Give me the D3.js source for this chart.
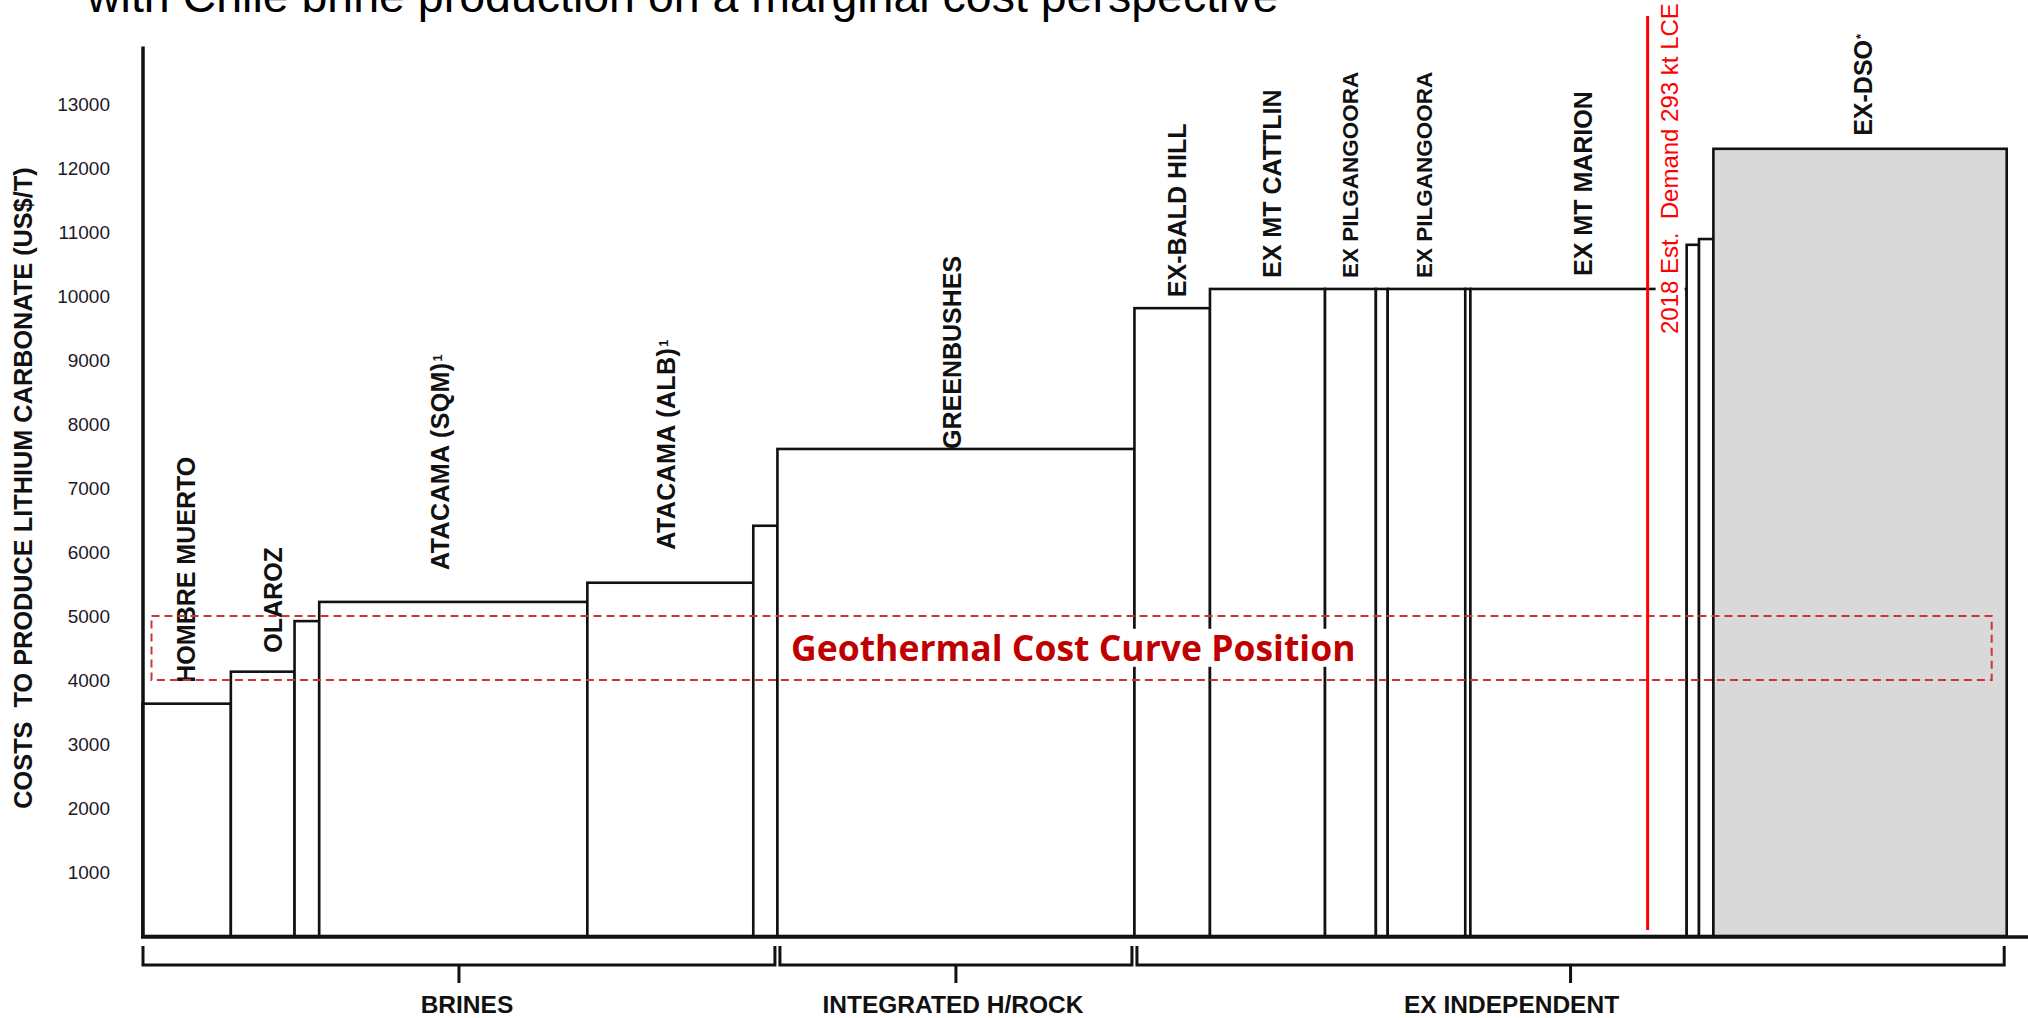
<!DOCTYPE html>
<html>
<head>
<meta charset="utf-8">
<script src="https://cdn.jsdelivr.net/npm/d3@7"></script>
<style>
  html, body { margin: 0; padding: 0; background: #fff; overflow: hidden; }
  svg { display: block; }
</style>
</head>
<body>
<svg id="chart" width="2028" height="1018"></svg>
<script>
// Lithium carbonate supply cost curve.
// Each step is one producer: width = annual capacity (kt LCE), height = cost (US$/t).
const producers = [
  "HOMBRE MUERTO", "OLAROZ", "", "ATACAMA (SQM)", "ATACAMA (ALB)", "",
  "GREENBUSHES", "EX-BALD HILL", "EX MT CATTLIN", "EX PILGANGOORA", "",
  "EX PILGANGOORA", "", "EX MT MARION", "", "", "EX-DSO"
];
const footnotes = ["", "", "", "1", "1", "", "", "", "", "", "", "", "", "", "", "", "*"];
const capacityKt = [17.2, 12.4, 4.8, 52.2, 32.3, 4.7, 69.5, 14.7, 22.4, 9.9, 2.3, 15.1, 1.0, 42.1, 2.4, 2.8, 57.1];
const costUsdPerT = [3630, 4130, 4920, 5220, 5520, 6410, 7610, 9810, 10110, 10110, 10110, 10110, 10110, 10110, 10800, 10890, 12300];
const shadedProducer = [false, false, false, false, false, false, false, false, false, false, false, false, false, false, false, false, true];

// Producer groups shown with brackets under the axis
const segments = ["BRINES", "INTEGRATED H/ROCK", "EX INDEPENDENT"];
const segmentFirst = [0, 6, 7];
const segmentLast = [5, 6, 16];

const yTicks = [1000, 2000, 3000, 4000, 5000, 6000, 7000, 8000, 9000, 10000, 11000, 12000, 13000];
const demandKt = 293;
const demandLabel = "2018 Est.  Demand 293 kt LCE";
const geothermalCost = [4000, 5000];
const geothermalLabel = "Geothermal Cost Curve Position";
const yTitle = "COSTS  TO PRODUCE LITHIUM CARBONATE (US$/T)";
const headline = "with Chile brine production on a marginal cost perspective";

// ---- layout ----
const svg = d3.select("#chart");
const totalKt = d3.sum(capacityKt);
const starts = d3.cumsum([0, ...capacityKt.slice(0, -1)]);

const x = d3.scaleLinear().domain([0, totalKt]).range([142.5, 2006.7]);
const y = d3.scaleLinear().domain([0, 13000]).range([936, 104]);

// label nudges (px) and gap above each step (px)
const labelDx  = [0, 11, 0, -13, -4, 0, -4, 5, 5, 0, 0, -2, 0, 5, 0, 0, 3];
const labelGap = [21, 19, 0, 32, 33, 0, 0, 11, 11, 11, 0, 11, 0, 13, 0, 0, 13];
const segLabelDx = [8, -3, -59];

const FONT = "'Liberation Sans', Arial, Helvetica, sans-serif";

// headline (partly cut off by the top edge)
svg.append("text")
  .attr("x", 87).attr("y", 12)
  .attr("font-family", FONT).attr("font-size", 46.5)
  .attr("fill", "#000")
  .text(headline);

// y tick labels
const yAxis = d3.axisLeft(y).tickValues(yTicks).tickSize(0).tickPadding(33).tickFormat(d3.format("d"));
const gy = svg.append("g").attr("transform", "translate(143,0)").call(yAxis);
gy.select(".domain").remove();
gy.selectAll("text")
  .attr("font-family", FONT).attr("font-size", 19)
  .attr("fill", "#1a1a26");

// y-axis title
svg.append("text")
  .attr("transform", "translate(23,488) rotate(-90)")
  .attr("text-anchor", "middle").attr("dy", "0.35em")
  .attr("font-family", FONT).attr("font-size", 25.3).attr("font-weight", "bold")
  .style("white-space", "pre")
  .attr("fill", "#111")
  .text(yTitle);

// cost-curve steps
const steps = producers.map((name, i) => ({
  name, note: footnotes[i], cap: capacityKt[i], cost: costUsdPerT[i], start: starts[i], shaded: shadedProducer[i], i
}));

svg.append("g").selectAll("rect").data(steps).join("rect")
  .attr("x", d => x(d.start))
  .attr("y", d => y(d.cost))
  .attr("width", d => x(d.start + d.cap) - x(d.start))
  .attr("height", d => y(0) - y(d.cost))
  .attr("fill", d => d.shaded ? "#d9d9d9" : "#fff")
  .attr("stroke", "#111").attr("stroke-width", 2.6);

// producer labels, vertical, with small raised footnote marks
const lbl = svg.append("g").selectAll("text").data(steps.filter(d => d.name)).join("text")
  .attr("transform", d => `translate(${(x(d.start) + x(d.start + d.cap)) / 2 + labelDx[d.i]},${y(d.cost) - labelGap[d.i]}) rotate(-90)`)
  .attr("dy", "0.35em")
  .attr("font-family", FONT)
  .attr("font-size", d => d.name.includes("PILGANGOORA") ? 22.5 : 25)
  .attr("font-weight", "bold")
  .attr("letter-spacing", d => d.name.startsWith("ATACAMA") ? 0.4 : 0)
  .attr("fill", "#111");
lbl.append("tspan").text(d => d.name);
lbl.filter(d => d.note).append("tspan")
  .attr("dx", 1)
  .attr("font-size", 13)
  .attr("baseline-shift", "55%")
  .text(d => d.note);

// axes lines
svg.append("line")
  .attr("x1", 143).attr("x2", 143).attr("y1", y(13900)).attr("y2", y(0) + 1.5)
  .attr("stroke", "#111").attr("stroke-width", 3.5);
svg.append("line")
  .attr("x1", 141).attr("x2", 2028).attr("y1", y(0) + 1).attr("y2", y(0) + 1)
  .attr("stroke", "#111").attr("stroke-width", 3.5);

// geothermal cost band (dashed)
const bandLeft = x(0) + 9, bandRight = x(totalKt) - 15;
svg.append("rect")
  .attr("x", bandLeft).attr("y", y(geothermalCost[1]))
  .attr("width", bandRight - bandLeft)
  .attr("height", y(geothermalCost[0]) - y(geothermalCost[1]))
  .attr("fill", "none").attr("stroke", "#c9363a").attr("stroke-width", 2)
  .attr("stroke-dasharray", "8,5");

const geoText = svg.append("text")
  .attr("x", 791).attr("y", y(d3.mean(geothermalCost)))
  .attr("dy", "0.36em")
  .attr("font-family", "'Open Sans', 'Noto Sans', sans-serif")
  .attr("font-weight", "bold").attr("font-size", 35.5)
  .attr("fill", "#c00000")
  .text(geothermalLabel);
const gb = geoText.node().getBBox();
svg.insert("rect", () => geoText.node())
  .attr("x", gb.x - 4).attr("y", gb.y + 6).attr("width", gb.width + 8).attr("height", gb.height - 10)
  .attr("fill", "#fff");

// demand line and label
const xd = x(demandKt);
svg.append("line")
  .attr("x1", xd).attr("x2", xd).attr("y1", 16).attr("y2", y(0) - 6)
  .attr("stroke", "#ff0000").attr("stroke-width", 3);
const demText = svg.append("text")
  .attr("transform", `translate(${xd + 22},334) rotate(-90)`)
  .attr("dy", "0.35em")
  .attr("font-family", FONT).attr("font-size", 24)
  .style("white-space", "pre")
  .attr("fill", "#ff0000")
  .text(demandLabel);
svg.insert("rect", () => demText.node())
  .attr("x", xd + 8).attr("y", 8).attr("width", 29).attr("height", 330)
  .attr("fill", "#fff");

// segment brackets under the axis
const bTop = 946, bBot = 965, bTick = 983;
segments.forEach((name, k) => {
  const x0 = x(starts[segmentFirst[k]]) + (k === 0 ? 0.5 : 2.5);
  const x1 = x(starts[segmentLast[k]] + capacityKt[segmentLast[k]]) - 2.5;
  const xm = (x0 + x1) / 2;
  svg.append("path")
    .attr("d", `M${x0},${bTop}V${bBot}H${x1}V${bTop}M${xm},${bBot}V${bTick}`)
    .attr("fill", "none").attr("stroke", "#111").attr("stroke-width", 3);
  svg.append("text")
    .attr("x", xm + segLabelDx[k]).attr("y", 1013)
    .attr("text-anchor", "middle")
    .attr("font-family", FONT).attr("font-size", 24.5).attr("font-weight", "bold")
    .attr("fill", "#111")
    .text(name);
});
</script>
</body>
</html>
